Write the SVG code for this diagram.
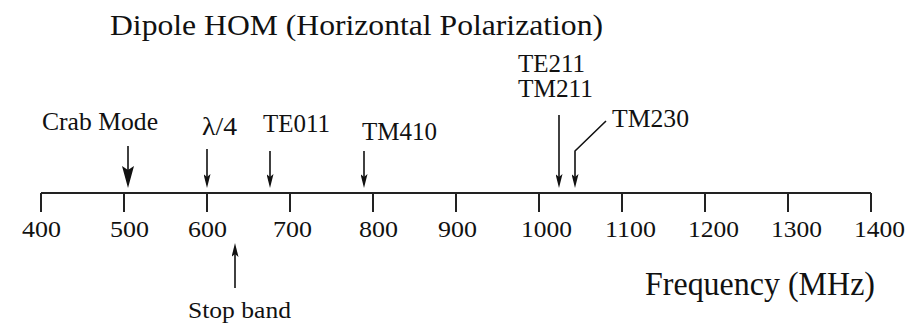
<svg xmlns="http://www.w3.org/2000/svg" width="918" height="325" viewBox="0 0 918 325">
<style>
.t{font-family:"Liberation Serif","Times New Roman",serif;fill:#111}
.lb{font-size:25px}
.tk{font-size:23px}
.ln{stroke:#111;stroke-width:1.6;fill:none}
.ax{stroke:#222;stroke-width:2;fill:none}
</style>
<defs>
<marker id="ah" markerWidth="14" markerHeight="7" refX="8" refY="3.5" orient="auto" markerUnits="userSpaceOnUse" viewBox="0 0 14 7">
<path d="M0,0 L3,3.5 L0,7 L14,3.5 Z" fill="#111"/>
</marker>
<marker id="ahb" markerWidth="22" markerHeight="12" refX="14" refY="6" orient="auto" markerUnits="userSpaceOnUse" viewBox="0 0 22 12">
<path d="M0,0 L4,6 L0,12 L22,6 Z" fill="#111"/>
</marker>
</defs>
<rect width="918" height="325" fill="#fff"/>
<g id="title"><text class="t" x="110" y="35" font-size="30" textLength="493" lengthAdjust="spacingAndGlyphs">Dipole HOM (Horizontal Polarization)</text></g>
<g id="axis">
<path class="ax" d="M41,193 H871"/>
<path class="ax" d="M41,193 V212 M124,193 V212 M207,193 V212 M290,193 V212 M373,193 V212 M456,193 V212 M539,193 V212 M622,193 V212 M705,193 V212 M788,193 V212 M871,193 V212"/>
</g>
<g id="ticklabels" class="t tk">
<text x="22" y="237" textLength="39" lengthAdjust="spacingAndGlyphs">400</text>
<text x="110" y="237" textLength="39" lengthAdjust="spacingAndGlyphs">500</text>
<text x="188" y="237" textLength="39" lengthAdjust="spacingAndGlyphs">600</text>
<text x="273" y="237" textLength="39" lengthAdjust="spacingAndGlyphs">700</text>
<text x="359" y="237" textLength="39" lengthAdjust="spacingAndGlyphs">800</text>
<text x="438" y="237" textLength="39" lengthAdjust="spacingAndGlyphs">900</text>
<text x="521" y="237" textLength="51" lengthAdjust="spacingAndGlyphs">1000</text>
<text x="605" y="237" textLength="51" lengthAdjust="spacingAndGlyphs">1100</text>
<text x="688" y="237" textLength="51" lengthAdjust="spacingAndGlyphs">1200</text>
<text x="771" y="237" textLength="51" lengthAdjust="spacingAndGlyphs">1300</text>
<text x="854" y="237" textLength="51" lengthAdjust="spacingAndGlyphs">1400</text>
</g>
<g id="crab"><text class="t lb" x="42" y="130" textLength="116" lengthAdjust="spacingAndGlyphs">Crab Mode</text></g>
<g id="lambda4"><text class="t lb" x="202" y="135" textLength="35" lengthAdjust="spacingAndGlyphs">λ/4</text></g>
<g id="te011"><text class="t lb" x="263" y="132" textLength="67" lengthAdjust="spacingAndGlyphs">TE011</text></g>
<g id="tm410"><text class="t lb" x="362" y="140" textLength="75" lengthAdjust="spacingAndGlyphs">TM410</text></g>
<g id="te211"><text class="t lb" x="518" y="72" textLength="67" lengthAdjust="spacingAndGlyphs">TE211</text><text class="t lb" x="518" y="97" textLength="75" lengthAdjust="spacingAndGlyphs">TM211</text></g>
<g id="tm230"><text class="t lb" x="612" y="127" textLength="77" lengthAdjust="spacingAndGlyphs">TM230</text></g>
<g id="stopband"><text class="t" x="188" y="318" font-size="24" textLength="103" lengthAdjust="spacingAndGlyphs">Stop band</text></g>
<g id="freq"><text class="t" x="645" y="295" font-size="34" textLength="230" lengthAdjust="spacingAndGlyphs">Frequency (MHz)</text></g>
<g id="connectors">
<path class="ln" d="M128,146 V180" marker-end="url(#ahb)"/>
<path class="ln" d="M207,149 V182" marker-end="url(#ah)"/>
<path class="ln" d="M270,151 V182" marker-end="url(#ah)"/>
<path class="ln" d="M364,151 V182" marker-end="url(#ah)"/>
<path class="ln" d="M559,115 V182" marker-end="url(#ah)"/>
<path class="ln" d="M606,121 L575,151 V182" marker-end="url(#ah)"/>
<path class="ln" d="M235,288 V249" marker-end="url(#ah)"/>
</g>
</svg>
